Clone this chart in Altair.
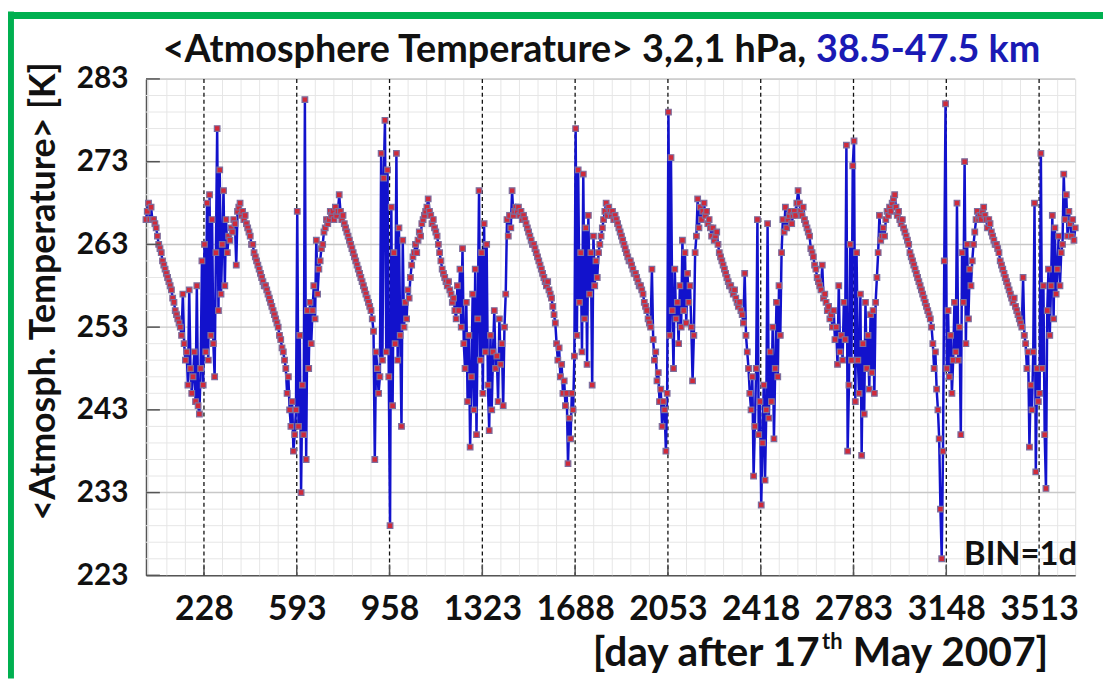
import altair as alt
import pandas as pd

# ---------------- data (one value every 5 days) ----------------
STEP = 5
chunk_starts = [0, 365, 730, 1095, 1460, 1825, 2190, 2555, 2920, 3285]

temps_c0 = [
    266, 267, 268, 266, 267.5, 266, 266, 265.5, 265, 264,
    263, 262.5, 262, 261, 260.5, 260, 259.5, 259, 258.5, 258,
    257.5, 256.5, 256, 255, 254.5, 254, 253.5, 253, 252, 257,
    251, 249, 250, 246, 257.5, 248, 245, 247, 250, 244,
    258, 243.5, 242.5, 248, 261, 246, 263, 250, 268, 249,
    269, 252, 266, 251, 247, 262, 277, 255, 272, 257,
    263, 269.5, 258, 266, 262, 264, 263.5, 265, 264.5, 266,
    265.5, 260.5, 267]
temps_c1 = [
    267.5, 268, 266.5, 267, 266, 266.5, 265.5, 265, 264.5, 264,
    263, 263, 262, 261.5, 261, 260.5, 260, 259.5, 259, 258.5,
    258, 258, 257.5, 257, 256.5, 256, 255.5, 255, 254.5, 254,
    253.5, 253, 252, 251.5, 250.5, 250, 249, 248, 245, 247,
    243, 241, 244, 238, 240, 243, 267, 241, 252, 233,
    246, 240, 280.5, 237, 255, 248, 256, 251, 255, 258,
    254, 263.5, 257, 260, 261, 262.5, 263, 264.5, 265, 266,
    265.5, 266, 267]
temps_c2 = [
    266.5, 267, 266, 267.5, 266.5, 267, 269, 267, 266, 266.5,
    265.5, 265, 264.5, 264, 263.5, 263, 262.5, 262, 261.5, 261,
    260.5, 260, 259.5, 259, 258.5, 258, 257.5, 257, 256.5, 256,
    255.5, 255, 254, 252.5, 237, 250, 248, 245, 247, 274,
    249, 271, 278, 250, 272, 247, 229, 267.5, 243.5, 262,
    251, 274, 249, 265, 252, 241, 263.5, 253, 256, 254,
    257.5, 256.5, 259, 260.5, 261.5, 262, 263, 262, 263.5, 264.5,
    264, 265.5, 266]
temps_c3 = [
    266.5, 267, 267.5, 268.5, 267, 266.5, 265.5, 266, 265, 264.5,
    264, 263, 262, 261, 260, 259.5, 259, 258.5, 258, 258.5,
    257.5, 257, 256, 256.5, 255, 254, 258, 255, 260, 253,
    262.5, 251, 248, 256, 244, 252, 238.5, 247, 257, 243,
    260, 240, 254, 269.5, 249, 262, 245, 265.5, 250, 263,
    246, 240.5, 252, 243, 250, 255, 248, 249.5, 244, 254,
    248.5, 251, 243.5, 253, 257, 266, 264, 266.5, 265, 269.5,
    266.5, 267, 267.5]
temps_c4 = [
    267, 267.5, 266.5, 267, 266, 266.5, 266, 265.5, 265, 264.5,
    264, 263.5, 263, 263, 262.5, 262, 261.5, 261, 260.5, 260,
    259.5, 259, 258.5, 258, 258.5, 257.5, 257, 256.5, 255.5, 254.5,
    253.5, 251, 249, 250.5, 247, 248.5, 245, 246.5, 243.5, 245,
    236.5, 242, 239.5, 245, 243, 249.5, 277, 252, 272, 256,
    262, 250, 271.5, 254, 265, 248.5, 266.5, 257, 262, 246,
    264, 258, 261, 259, 262, 263, 264, 265, 266, 267,
    268, 266.5, 267.5]
temps_c5 = [
    267, 266.5, 267, 266, 266.5, 266, 265.5, 265, 264.5, 264,
    263.5, 263, 262.5, 262, 261.5, 261, 261, 260.5, 260, 259.5,
    259.5, 259, 258.5, 258, 258, 257.5, 257, 256, 255.5, 255,
    254, 253.5, 253, 260, 251.5, 249, 250, 246.5, 247.5, 244,
    245.5, 241, 244, 243, 238, 245, 279, 252, 273.5, 255,
    248, 260, 254, 256, 251, 258, 253, 263.5, 255, 262,
    253.5, 259.5, 256, 258, 253, 246.5, 252, 262, 264, 268.5,
    265, 267.5, 266]
temps_c6 = [
    267, 268, 266.5, 267, 265.5, 266, 265, 264, 265, 263.5,
    264, 264.5, 263, 262, 261.5, 261, 260.5, 260, 259.5, 259,
    258.5, 258, 258, 257.5, 257, 257.5, 256.5, 256, 255.5, 256,
    255, 254.5, 253.5, 259.5, 252, 250, 248, 245, 243, 247,
    235, 241, 248, 266, 240, 244, 231.5, 239, 246, 234.5,
    243, 265.5, 242, 250, 244, 253, 239.5, 248, 256, 247,
    258, 252, 262, 266, 264.5, 267.5, 265, 266, 266.5, 267,
    265.5, 266.5, 267]
temps_c7 = [
    266.5, 268, 269.5, 268, 267, 266.5, 267.5, 266, 265.5, 265,
    264.5, 264, 262.5, 262, 261.5, 260.5, 260, 259, 258.5, 258,
    257.5, 260.5, 256.5, 257, 256, 255, 255.5, 254, 254.5, 253,
    255, 251.5, 253, 248.5, 258, 250, 252, 249, 256, 251.5,
    275, 238, 246, 263, 249, 272.5, 275.5, 244, 262, 249,
    245, 257, 237.5, 251, 242.5, 256, 248, 252, 245.5, 254.5,
    247.5, 255, 245, 256, 259, 262, 266.5, 263.5, 264, 265,
    264, 266, 267]
temps_c8 = [
    266.5, 267.5, 267, 268, 268.5, 269, 267.5, 266.5, 267, 266,
    265.5, 266, 265, 264.5, 264, 263.5, 263, 262, 261.5, 261,
    260.5, 260, 259.5, 259, 258.5, 258, 257.5, 257, 256.5, 256,
    255.5, 255, 254.5, 254, 253, 251, 248, 250, 245.5, 243,
    239.5, 231, 225, 238, 261, 280, 248, 255, 247, 252,
    245, 249, 256, 250, 268, 249, 253, 240, 262, 256,
    273, 251, 263, 254, 260, 258, 261, 263, 264.5, 266,
    267, 266, 266.5]
temps_c9 = [
    266, 267, 267.5, 266.5, 266, 265, 266, 265.5, 264.5, 264,
    263.5, 263, 263, 262.5, 262, 261, 260.5, 260, 259.5, 259,
    258.5, 258, 257.5, 257, 256.5, 256, 256.5, 255.5, 255, 254.5,
    254, 253.5, 253, 259, 252, 251, 248, 250, 238.5, 246,
    243, 250, 268, 235.5, 248, 244, 245, 274, 248, 258,
    240, 233.5, 255, 260, 252, 258, 266.5, 254, 265, 257,
    260, 264, 258, 262, 263, 271.5, 266, 269, 264, 267,
    265.5, 264, 266, 263.5, 265]

chunks = [temps_c0, temps_c1, temps_c2, temps_c3, temps_c4,
          temps_c5, temps_c6, temps_c7, temps_c8, temps_c9]

days, temps = [], []
for start, vals in zip(chunk_starts, chunks):
    for i, v in enumerate(vals):
        days.append(start + STEP * i)
        temps.append(v)
df = pd.DataFrame({"day": days, "temp": temps})

# axis ticks / grid
x_ticks = [228, 593, 958, 1323, 1688, 2053, 2418, 2783, 3148, 3513]
x_minor = [d for d in range(9, 3656, 73) if d not in x_ticks]
y_ticks = [223, 233, 243, 253, 263, 273, 283]
y_minor = [v for v in range(225, 283, 2) if v not in y_ticks]

title_black = "<Atmosphere Temperature> 3,2,1 hPa,"
title_blue = "38.5-47.5 km"
y_title = "<Atmosph. Temperature> [K]"
x_title_a = "[day after 17"
x_title_sup = "th"
x_title_b = "May 2007]"
bin_label = "BIN=1d"

# ---------------- chart ----------------
W, H = 936, 500
FONT = "Lato"
xs = alt.Scale(domain=[0, 3655], nice=False, zero=False)
ys = alt.Scale(domain=[223, 283], nice=False, zero=False)

x_axis = alt.Axis(values=x_ticks, title=None, grid=False, ticks=False,
                  tickSize=0, labelFontSize=34, labelFont=FONT,
                  labelFontWeight="bold", labelColor="#111111",
                  labelPadding=18, domainColor="#555555",
                  domainWidth=1.5, labelFlush=False, format="d")
y_axis = alt.Axis(values=y_ticks, title=None, grid=False, ticks=False,
                  tickSize=0, labelFontSize=30, labelFont=FONT,
                  labelFontWeight="bold", labelColor="#111111",
                  labelPadding=18, domainColor="#555555",
                  domainWidth=1.5, labelFlush=False, format="d")

minor_v = alt.Chart(pd.DataFrame({"day": x_minor})).mark_rule(
    color="#e6e6e6", strokeWidth=1).encode(x=alt.X("day:Q", scale=xs, axis=x_axis))
minor_h = alt.Chart(pd.DataFrame({"temp": y_minor})).mark_rule(
    color="#e6e6e6", strokeWidth=1).encode(y=alt.Y("temp:Q", scale=ys, axis=y_axis))
major_h = alt.Chart(pd.DataFrame({"temp": y_ticks[1:]})).mark_rule(
    color="#c8c8c8", strokeWidth=1.5).encode(y=alt.Y("temp:Q", scale=ys, axis=y_axis))
dashed = alt.Chart(pd.DataFrame({"day": x_ticks})).mark_rule(
    color="#111111", strokeWidth=1.3, strokeDash=[4, 3]).encode(
    x=alt.X("day:Q", scale=xs, axis=x_axis))

base = alt.Chart(df).encode(
    x=alt.X("day:Q", scale=xs, axis=x_axis),
    y=alt.Y("temp:Q", scale=ys, axis=y_axis),
)
line = base.mark_line(color="#1212cc", strokeWidth=2.5)
pts = base.mark_point(shape="square", size=32, filled=True, fill="#d02a3a",
                      stroke="#7c6e9e", strokeWidth=1.2, opacity=1)

ltick = alt.Chart(pd.DataFrame({"temp": y_ticks})).mark_rule(
    color="#555555", strokeWidth=1.5).encode(
    y=alt.Y("temp:Q", scale=ys, axis=y_axis), x=alt.value(0), x2=alt.value(14))
btick = alt.Chart(pd.DataFrame({"day": x_ticks})).mark_rule(
    color="#555555", strokeWidth=1.5).encode(
    x=alt.X("day:Q", scale=xs, axis=x_axis), y=alt.value(H), y2=alt.value(H - 11))


def label(txt, x, y, size, color="#111111", align="left", angle=0, baseline="alphabetic"):
    kw = dict(text=txt, font=FONT, fontWeight="bold", fontSize=size,
              color=color, align=align, baseline=baseline)
    if angle:
        kw["angle"] = angle
    return alt.Chart(pd.DataFrame({"a": [0]})).mark_text(**kw).encode(
        x=alt.value(x), y=alt.value(y))


t1 = label(title_black, 665, -17, 38, align="right")
t2 = label(title_blue, 675, -17, 38, color="#1a1ab4")
ytl = label(y_title, -103, 214, 36, align="center", angle=270, baseline="middle")
xt1 = label(x_title_a, 450, 591, 41)
xt2 = label(x_title_sup, 681, 574, 22)
xt3 = label(x_title_b, 712, 591, 41)
binl = label(bin_label, 938, 490, 33, align="right")

green_v = alt.Chart(pd.DataFrame({"a": [0]})).mark_rule(
    color="#00b050", strokeWidth=6).encode(
    x=alt.value(-136), y=alt.value(-68), y2=alt.value(H + 104))
green_h = alt.Chart(pd.DataFrame({"a": [0]})).mark_rule(
    color="#00b050", strokeWidth=7).encode(
    x=alt.value(-139), x2=alt.value(W + 28), y=alt.value(-64))

chart = alt.layer(
    minor_v, minor_h, major_h, dashed, line, pts, ltick, btick,
    t1, t2, ytl, xt1, xt2, xt3, binl, green_v, green_h
).properties(
    width=W, height=H,
    padding={"left": 139, "top": 69, "right": 28, "bottom": 104},
    autosize=alt.AutoSizeParams(type="none"),
).configure_view(stroke=None).configure(background="white")

chart.save("out.html", embed_options={"renderer": "svg", "actions": False})
